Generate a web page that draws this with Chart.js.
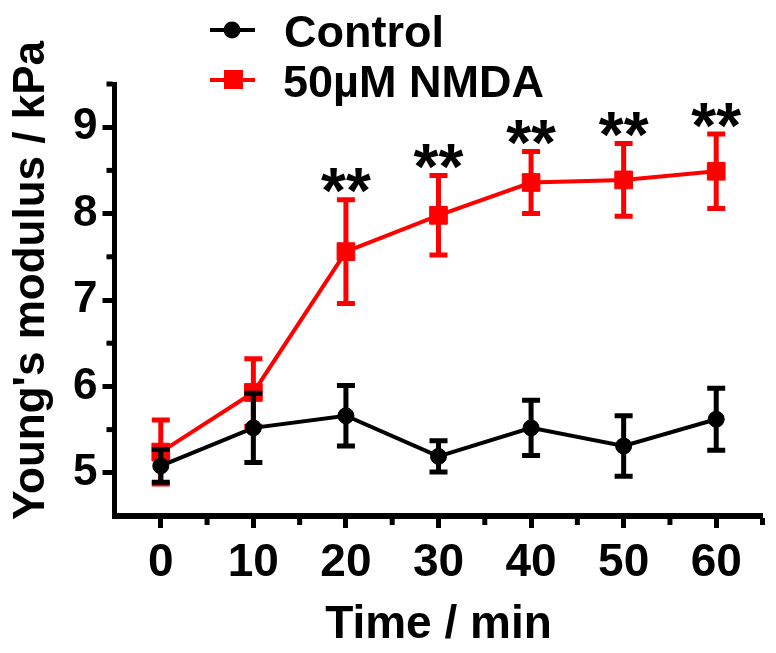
<!DOCTYPE html>
<html><head><meta charset="utf-8">
<script src="https://cdn.jsdelivr.net/npm/chart.js@4/dist/chart.umd.min.js"></script>
<style>html,body{margin:0;padding:0;background:#fff;}canvas{display:block;}</style>
</head><body>
<canvas id="c" width="776" height="653"></canvas>
<script>
// ---- data ----
const timePoints   = [0, 10, 20, 30, 40, 50, 60];
const controlMean  = [5.08, 5.52, 5.66, 5.19, 5.52, 5.31, 5.62];
const controlErr   = [0.19, 0.40, 0.35, 0.18, 0.32, 0.35, 0.36];
const nmdaMean     = [5.24, 5.93, 7.56, 7.98, 8.36, 8.39, 8.49];
const nmdaErr      = [0.37, 0.39, 0.60, 0.46, 0.36, 0.42, 0.43];
const significance = ['', '', '**', '**', '**', '**', '**'];
const seriesNames  = ['Control', '50µM NMDA'];
const yTickValues  = [5, 6, 7, 8, 9];
const yMinorValues = [5.5, 6.5, 7.5, 8.5, 9.5];
const xTickValues  = [0, 10, 20, 30, 40, 50, 60];
const xMinorValues = [5, 15, 25, 35, 45, 55, 65];
const xAxisTitle   = 'Time / min';
const yAxisTitle   = "Young's modulus / kPa";

const FONT = '"Liberation Sans", Arial, Helvetica, sans-serif';

const decor = {
  id: 'decor',
  afterDatasetDraw(chart, args) {
    const ds = chart.data.datasets[args.index];
    const ys = chart.scales.y;
    const ctx = chart.ctx;
    ctx.save();
    ctx.strokeStyle = ds.borderColor;
    ctx.lineWidth = 5;
    ctx.lineCap = 'butt';
    args.meta.data.forEach((pt, i) => {
      const m = ds.data[i].y, e = ds.errors[i];
      const yt = ys.getPixelForValue(m + e), yb = ys.getPixelForValue(m - e);
      ctx.beginPath();
      ctx.moveTo(pt.x, yt); ctx.lineTo(pt.x, yb);
      ctx.moveTo(pt.x - 9, yt); ctx.lineTo(pt.x + 9, yt);
      ctx.moveTo(pt.x - 9, yb); ctx.lineTo(pt.x + 9, yb);
      ctx.stroke();
    });
    ctx.restore();
  },
  afterDraw(chart) {
    const ctx = chart.ctx;
    const xs = chart.scales.x, ys = chart.scales.y;
    ctx.save();
    // minor ticks
    ctx.fillStyle = '#000';
    yMinorValues.forEach(v => {
      const py = ys.getPixelForValue(v);
      ctx.fillRect(ys.right - 8, py - 2.5, 6, 5);
    });
    xMinorValues.forEach(v => {
      const px = xs.getPixelForValue(v);
      ctx.fillRect(px - 2.5, xs.top + 2, 5, 7);
    });
    // significance stars
    ctx.font = 'bold 64px ' + FONT;
    ctx.textAlign = 'center';
    ctx.textBaseline = 'alphabetic';
    significance.forEach((s, i) => {
      if (!s) return;
      const px = xs.getPixelForValue(timePoints[i]);
      const cap = ys.getPixelForValue(nmdaMean[i] + nmdaErr[i]);
      const m = ctx.measureText(s);
      const cy = cap - 19;
      const base = cy + (m.actualBoundingBoxAscent - m.actualBoundingBoxDescent) / 2;
      ctx.fillText(s, px, base);
    });
    // legend
    ctx.lineWidth = 4;
    ctx.strokeStyle = '#000';
    ctx.beginPath(); ctx.moveTo(210, 30); ctx.lineTo(255, 30); ctx.stroke();
    ctx.beginPath(); ctx.arc(232, 30, 8.5, 0, Math.PI * 2); ctx.fillStyle = '#000'; ctx.fill();
    ctx.strokeStyle = '#ff0000';
    ctx.beginPath(); ctx.moveTo(210, 80); ctx.lineTo(255, 80); ctx.stroke();
    ctx.fillStyle = '#ff0000';
    ctx.fillRect(224, 70, 19, 19);
    ctx.fillStyle = '#000';
    ctx.font = 'bold 45px ' + FONT;
    ctx.textAlign = 'left';
    ctx.fillText(seriesNames[0], 284, 47);
    ctx.fillText(seriesNames[1], 283, 96.5);
    // axis titles
    ctx.font = 'bold 46px ' + FONT;
    ctx.textAlign = 'center';
    ctx.fillText(xAxisTitle, (xs.left + xs.right) / 2, 638);
    ctx.save();
    ctx.translate(44, 280.5);
    ctx.rotate(-Math.PI / 2);
    ctx.font = 'bold 44px ' + FONT;
    ctx.fillText(yAxisTitle, 0, 0);
    ctx.restore();
    ctx.restore();
  }
};

new Chart(document.getElementById('c'), {
  type: 'line',
  data: {
    datasets: [
      {
        label: seriesNames[0],
        data: timePoints.map((t, i) => ({x: t, y: controlMean[i]})),
        errors: controlErr,
        borderColor: '#000000',
        backgroundColor: '#000000',
        borderWidth: 4,
        pointStyle: 'circle',
        pointRadius: 8,
        pointBorderWidth: 1,
        tension: 0
      },
      {
        label: seriesNames[1],
        data: timePoints.map((t, i) => ({x: t, y: nmdaMean[i]})),
        errors: nmdaErr,
        borderColor: '#ff0000',
        backgroundColor: '#ff0000',
        borderWidth: 4,
        pointStyle: 'rect',
        pointRadius: 12.5,
        pointBorderWidth: 1,
        tension: 0
      }
    ]
  },
  options: {
    responsive: false,
    animation: false,
    devicePixelRatio: 1,
    layout: {padding: {left: 0, top: 84, right: 13, bottom: 0}},
    plugins: {legend: {display: false}, tooltip: {enabled: false}},
    scales: {
      x: {
        type: 'linear', min: -5, max: 65, position: 'bottom',
        afterBuildTicks: s => { s.ticks = xTickValues.map(v => ({value: v})); },
        afterFit: s => { s.height = 137; },
        grid: {display: true, drawOnChartArea: false, drawTicks: true, tickLength: 12, tickWidth: 5, tickColor: '#000'},
        border: {display: true, color: '#000', width: 6},
        ticks: {color: '#000', font: {family: FONT, size: 46, weight: 'bold'}, padding: 8, maxRotation: 0, autoSkip: false}
      },
      y: {
        type: 'linear', min: 4.5, max: 9.5, position: 'left',
        afterBuildTicks: s => { s.ticks = yTickValues.map(v => ({value: v})); },
        afterFit: s => { s.width = 114.5; },
        grid: {display: true, drawOnChartArea: false, drawTicks: true, tickLength: 12, tickWidth: 5, tickColor: '#000'},
        border: {display: true, color: '#000', width: 5},
        ticks: {color: '#000', font: {family: FONT, size: 44, weight: 'bold'}, padding: 5, autoSkip: false}
      }
    }
  },
  plugins: [decor]
});
</script>
</body></html>
